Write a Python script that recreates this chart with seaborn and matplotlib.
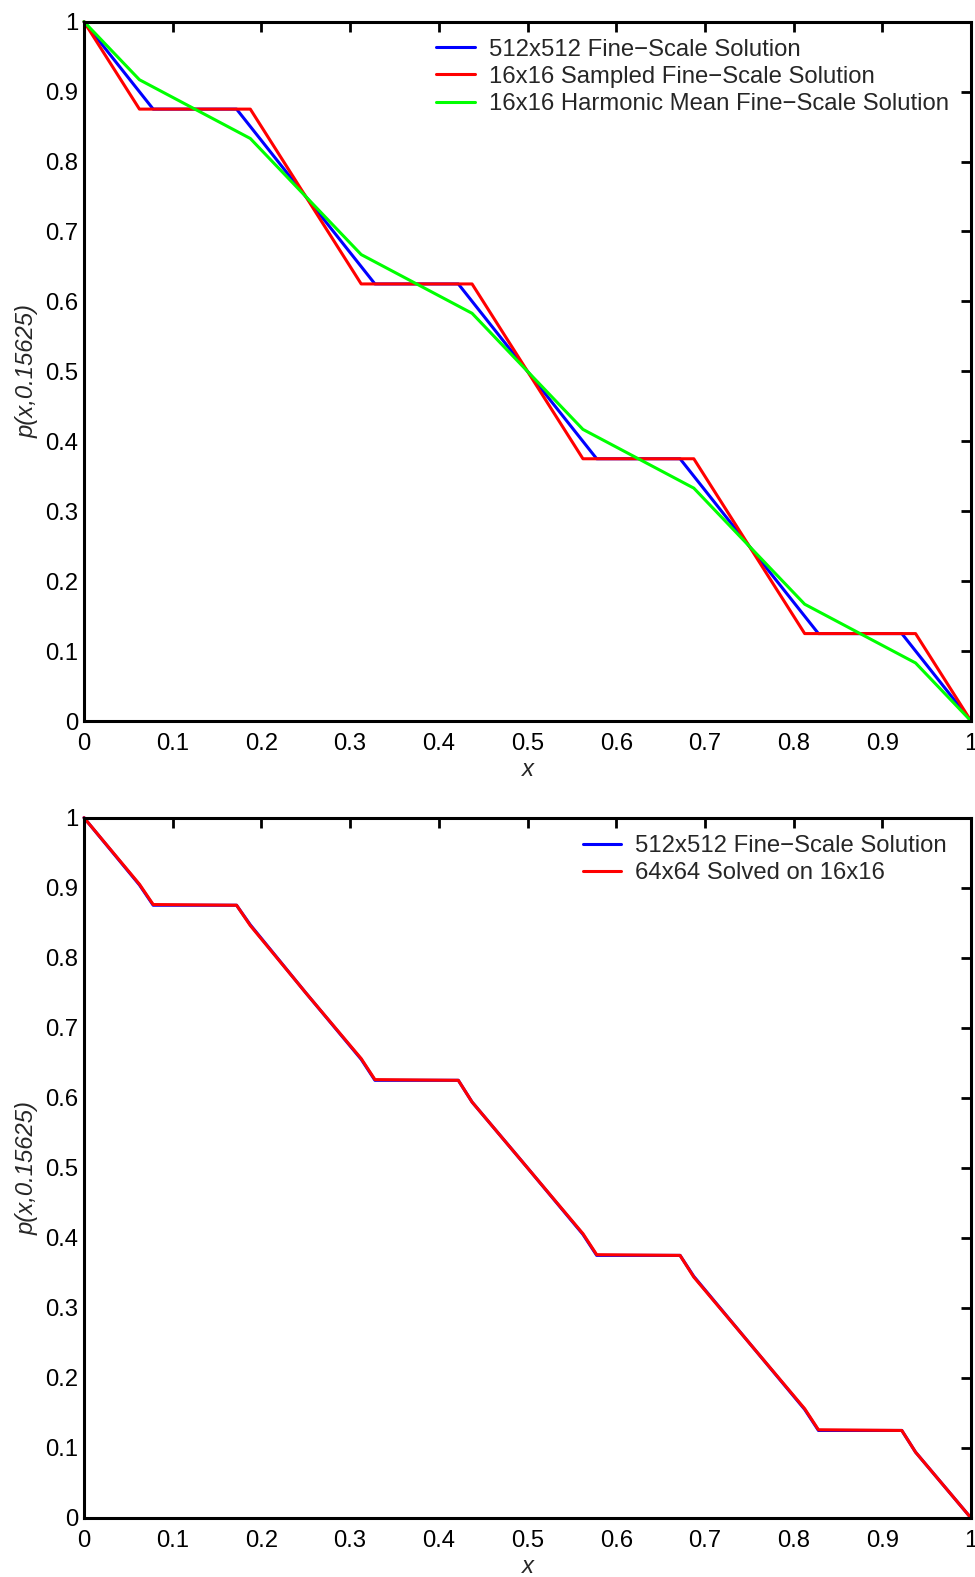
import numpy as np
import pandas as pd
import matplotlib
matplotlib.use("Agg")
import matplotlib.pyplot as plt
import seaborn as sns

# ---- data ----
# top panel
fine_top_x = [0, 0.078, 0.172, 0.328, 0.422, 0.578, 0.672, 0.828, 0.922, 1.0]
fine_top_y = [1.0, 0.875, 0.875, 0.625, 0.625, 0.375, 0.375, 0.125, 0.125, 0.0]
samp_x = [0, 0.0625, 0.1875, 0.3125, 0.4375, 0.5625, 0.6875, 0.8125, 0.9375, 1.0]
samp_y = [1.0, 0.875, 0.875, 0.625, 0.625, 0.375, 0.375, 0.125, 0.125, 0.0]
harm_x = [0, 0.0625, 0.1875, 0.3125, 0.4375, 0.5625, 0.6875, 0.8125, 0.9375, 1.0]
harm_y = [1.0, 0.917, 0.833, 0.667, 0.583, 0.417, 0.333, 0.167, 0.083, 0.0]

# bottom panel
fine_bot_x = [0, 0.0625, 0.078, 0.172, 0.1875, 0.25, 0.3125, 0.328, 0.422, 0.4375,
              0.5, 0.5625, 0.578, 0.672, 0.6875, 0.75, 0.8125, 0.828, 0.922, 0.9375, 1.0]
fine_bot_y = [1.0, 0.904, 0.875, 0.875, 0.847, 0.75, 0.655, 0.625, 0.625, 0.594,
              0.5, 0.405, 0.375, 0.375, 0.345, 0.25, 0.155, 0.125, 0.125, 0.094, 0.0]
solved_x = [0, 0.0625, 0.078, 0.172, 0.1875, 0.25, 0.3125, 0.328, 0.422, 0.4375,
            0.5, 0.5625, 0.578, 0.672, 0.6875, 0.75, 0.8125, 0.828, 0.922, 0.9375, 1.0]
solved_y = [1.0, 0.905, 0.876, 0.875, 0.846, 0.75, 0.656, 0.626, 0.625, 0.594,
            0.5, 0.406, 0.376, 0.375, 0.344, 0.25, 0.156, 0.126, 0.125, 0.094, 0.0]

ticks = [0, 0.1, 0.2, 0.3, 0.4, 0.5, 0.6, 0.7, 0.8, 0.9, 1.0]
tick_labels = ["0", "0.1", "0.2", "0.3", "0.4", "0.5", "0.6", "0.7", "0.8", "0.9", "1"]

top_labels = ["512x512 Fine\u2212Scale Solution",
              "16x16 Sampled Fine\u2212Scale Solution",
              "16x16 Harmonic Mean Fine\u2212Scale Solution"]
bot_labels = ["512x512 Fine\u2212Scale Solution", "64x64 Solved on 16x16"]

sns.set_style("white")
plt.rcParams["font.family"] = ["Liberation Sans", "DejaVu Sans"]

W, H = 975, 1577
fig = plt.figure(figsize=(W / 100, H / 100), dpi=100)

def axes_px(left, top, right, bottom):
    return fig.add_axes([left / W, 1 - bottom / H, (right - left) / W, (bottom - top) / H])

ax1 = axes_px(84, 21.7, 971, 721)
ax2 = axes_px(84, 817.7, 971, 1518)

LW = 2.2
FS = 17.2
sns.lineplot(x=fine_top_x, y=fine_top_y, ax=ax1, color=(0, 0, 1), lw=LW, sort=False,
             estimator=None, label=top_labels[0])
sns.lineplot(x=samp_x, y=samp_y, ax=ax1, color=(1, 0, 0), lw=LW, sort=False,
             estimator=None, label=top_labels[1])
sns.lineplot(x=harm_x, y=harm_y, ax=ax1, color=(0, 1, 0), lw=LW, sort=False,
             estimator=None, label=top_labels[2])

sns.lineplot(x=fine_bot_x, y=fine_bot_y, ax=ax2, color=(0, 0, 1), lw=LW, sort=False,
             estimator=None, label=bot_labels[0])
sns.lineplot(x=solved_x, y=solved_y, ax=ax2, color=(1, 0, 0), lw=LW, sort=False,
             estimator=None, label=bot_labels[1])

for ax in (ax1, ax2):
    ax.set_xlim(0, 1)
    ax.set_ylim(0, 1)
    ax.set_xticks(ticks)
    ax.set_yticks(ticks)
    ax.set_xticklabels(tick_labels)
    ax.set_yticklabels(tick_labels)
    ax.tick_params(axis="both", which="both", direction="in", length=7, width=2,
                   top=True, right=True, labelsize=FS, colors="black")
    ax.tick_params(axis="x", pad=8.5)
    ax.tick_params(axis="y", pad=4)
    for s in ax.spines.values():
        s.set_visible(True)
        s.set_color("black")
        s.set_linewidth(2.2)
    ax.set_xlabel("x", fontsize=FS, style="italic", labelpad=2)
    ax.set_ylabel("p(x,0.15625)", fontsize=FS, style="italic", labelpad=5)
    ax.grid(False)
    for ln in ax.get_lines():
        ln.set_clip_on(False)

leg_kw = dict(frameon=False, fontsize=FS, handlelength=1.6, handletextpad=0.6,
              labelspacing=0.22, borderpad=0, borderaxespad=0)
ax1.legend(loc="upper right", bbox_to_anchor=(949 / W, 1 - 38.5 / H),
           bbox_transform=fig.transFigure, **leg_kw)
ax2.legend(loc="upper right", bbox_to_anchor=(947 / W, 1 - 835 / H),
           bbox_transform=fig.transFigure, **leg_kw)

fig.savefig("out.png", dpi=100, facecolor="white")
